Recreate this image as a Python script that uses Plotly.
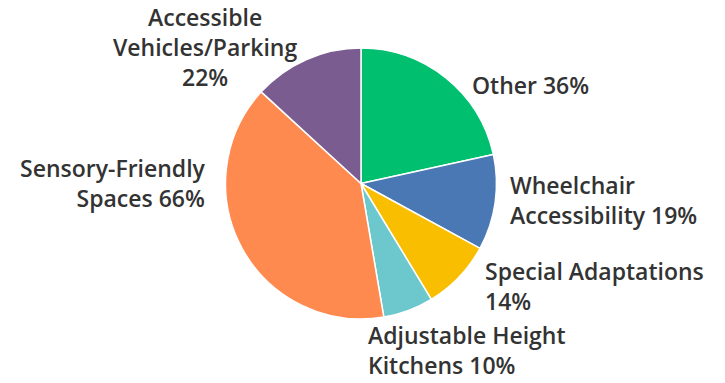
import math
import plotly.graph_objects as go

# ---- data ----
categories = ["Other", "Wheelchair Accessibility", "Special Adaptations",
              "Adjustable Height Kitchens", "Sensory-Friendly Spaces",
              "Accessible Vehicles/Parking"]
label_text = ["Other 36%", "Wheelchair<br>Accessibility 19%", "Special Adaptations<br>14%",
              "Adjustable Height<br>Kitchens 10%", "Sensory-Friendly<br>Spaces 66%",
              "Accessible<br>Vehicles/Parking<br>22%"]
values = [36, 19, 14, 10, 66, 22]
colors = ["#00BF6F", "#4A78B5", "#F9BE00", "#6CC8CC", "#FF8A50", "#7B5C90"]

# ---- layout (pixels) ----
W, H = 725, 383
CX, CY, R = 361.0, 183.5, 135.5
LABEL_R = 150.0
TEXT_ALIGN = ["left", "left", "left", "left", "right", "center"]
NUDGE = [(15, -18), (-2, 5), (13, 1), (-47, 7), (-21, 72), (-2, -1)]

fig = go.Figure(go.Pie(
    labels=categories, values=values,
    textinfo="none", hoverinfo="label+value",
    sort=False, direction="clockwise", rotation=0,
    marker=dict(colors=colors, line=dict(color="white", width=1.5)),
    domain=dict(x=[(CX - R) / W, (CX + R) / W], y=[1 - (CY + R) / H, 1 - (CY - R) / H]),
    showlegend=False,
))

total = sum(values)
cum = 0.0
annotations = []
for i, v in enumerate(values):
    mid = (cum + v / 2) / total * 2 * math.pi
    cum += v
    s, c = math.sin(mid), math.cos(mid)
    px = CX + LABEL_R * s
    py = CY - LABEL_R * c
    if s > 0.38:
        xa = "left"
    elif s < -0.38:
        xa = "right"
    else:
        xa = "center"
    if xa == "center":
        ya = "bottom" if c > 0 else "top"
    else:
        ya = "middle"
    if xa == "center" and ya == "top":
        xa = "left"
    dx, dy = NUDGE[i]
    annotations.append(dict(
        x=px / W, y=1 - py / H, xref="paper", yref="paper",
        text=label_text[i], showarrow=False,
        xanchor=xa, yanchor=ya, align=TEXT_ALIGN[i],
        xshift=dx, yshift=dy,
        font=dict(family="Open Sans", size=23, color="#333333", weight=600),
    ))

fig.update_layout(width=W, height=H, margin=dict(l=0, r=0, t=0, b=0),
                  paper_bgcolor="white", plot_bgcolor="white",
                  annotations=annotations)
fig.write_html("out.html")
